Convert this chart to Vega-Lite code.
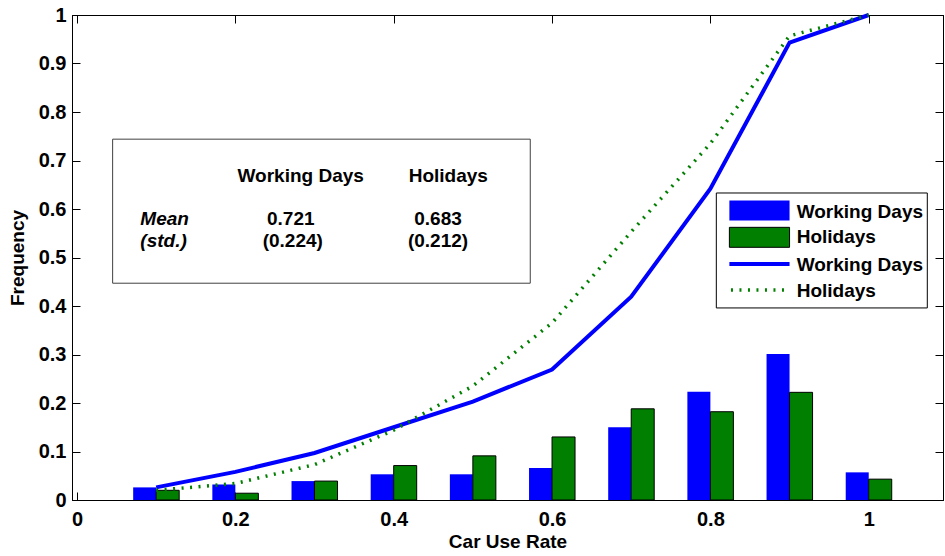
{
  "$schema": "https://vega.github.io/schema/vega-lite/v6.json",
  "autosize": "none",
  "width": 871,
  "height": 485,
  "padding": {"left": 72, "top": 15, "right": 2, "bottom": 56},
  "background": "white",
  "config": {
    "font": "Liberation Sans",
    "view": {"stroke": "black", "strokeWidth": 1},
    "axis": {
      "grid": false,
      "domainColor": "black",
      "tickColor": "black",
      "labelColor": "black",
      "titleColor": "black",
      "labelFont": "Liberation Sans",
      "titleFont": "Liberation Sans",
      "labelFontSize": 20,
      "labelFontWeight": "bold",
      "titleFontSize": 19,
      "titleFontWeight": "bold",
      "tickSize": -8,
      "labelFlush": false,
      "labelOverlap": false
    },
    "text": {"font": "Liberation Sans", "fontSize": 19, "fontWeight": "bold", "baseline": "middle"}
  },
  "datasets": {
    "hist": [
      {"rate": 0.1, "group": "Working Days", "freq": 0.026, "cdf": 0.026},
      {"rate": 0.2, "group": "Working Days", "freq": 0.032, "cdf": 0.058},
      {"rate": 0.3, "group": "Working Days", "freq": 0.039, "cdf": 0.097},
      {"rate": 0.4, "group": "Working Days", "freq": 0.053, "cdf": 0.150},
      {"rate": 0.5, "group": "Working Days", "freq": 0.053, "cdf": 0.203},
      {"rate": 0.6, "group": "Working Days", "freq": 0.066, "cdf": 0.269},
      {"rate": 0.7, "group": "Working Days", "freq": 0.150, "cdf": 0.419},
      {"rate": 0.8, "group": "Working Days", "freq": 0.223, "cdf": 0.642},
      {"rate": 0.9, "group": "Working Days", "freq": 0.301, "cdf": 0.943},
      {"rate": 1.0, "group": "Working Days", "freq": 0.057, "cdf": 1.0},
      {"rate": 0.1, "group": "Holidays", "freq": 0.020, "cdf": 0.020},
      {"rate": 0.2, "group": "Holidays", "freq": 0.014, "cdf": 0.034},
      {"rate": 0.3, "group": "Holidays", "freq": 0.039, "cdf": 0.073},
      {"rate": 0.4, "group": "Holidays", "freq": 0.071, "cdf": 0.144},
      {"rate": 0.5, "group": "Holidays", "freq": 0.091, "cdf": 0.235},
      {"rate": 0.6, "group": "Holidays", "freq": 0.130, "cdf": 0.365},
      {"rate": 0.7, "group": "Holidays", "freq": 0.188, "cdf": 0.553},
      {"rate": 0.8, "group": "Holidays", "freq": 0.182, "cdf": 0.735},
      {"rate": 0.9, "group": "Holidays", "freq": 0.222, "cdf": 0.957},
      {"rate": 1.0, "group": "Holidays", "freq": 0.043, "cdf": 1.0}
    ],
    "one": [{}]
  },
  "resolve": {"axis": {"x": "independent", "y": "independent"}},
  "layer": [
    {
      "data": {"name": "hist"},
      "transform": [{"filter": "datum.group === 'Working Days'"}],
      "mark": {"type": "bar", "width": 23, "xOffset": -11.5, "fill": "#0000FF", "stroke": null},
      "encoding": {
        "x": {
          "field": "rate", "type": "quantitative",
          "scale": {"domain": [0, 1.0875], "nice": false, "zero": false},
          "axis": {
            "orient": "bottom",
            "values": [0, 0.2, 0.4, 0.6, 0.8, 1],
            "format": "~g",
            "labelPadding": 17,
            "title": "Car Use Rate",
            "titlePadding": 3
          }
        },
        "y": {
          "field": "freq", "type": "quantitative",
          "scale": {"domain": [0, 1], "nice": false},
          "axis": {
            "orient": "left",
            "values": [0, 0.1, 0.2, 0.3, 0.4, 0.5, 0.6, 0.7, 0.8, 0.9, 1],
            "format": "~g",
            "labelPadding": 14,
            "title": "Frequency",
            "titlePadding": 11
          }
        }
      }
    },
    {
      "data": {"name": "hist"},
      "transform": [{"filter": "datum.group === 'Holidays'"}],
      "mark": {"type": "bar", "width": 23, "xOffset": 11.5, "fill": "#007F00", "stroke": "black", "strokeWidth": 1},
      "encoding": {
        "x": {"field": "rate", "type": "quantitative", "axis": null},
        "y": {"field": "freq", "type": "quantitative", "axis": null}
      }
    },
    {
      "data": {"name": "hist"},
      "transform": [{"filter": "datum.group === 'Working Days'"}],
      "mark": {"type": "line", "color": "#0000FF", "strokeWidth": 4},
      "encoding": {
        "x": {
          "field": "rate", "type": "quantitative",
          "axis": {"orient": "top", "values": [0, 0.2, 0.4, 0.6, 0.8, 1], "labels": false, "title": null}
        },
        "y": {
          "field": "cdf", "type": "quantitative",
          "axis": {"orient": "right", "values": [0, 0.1, 0.2, 0.3, 0.4, 0.5, 0.6, 0.7, 0.8, 0.9, 1], "labels": false, "title": null}
        }
      }
    },
    {
      "data": {"name": "hist"},
      "transform": [{"filter": "datum.group === 'Holidays'"}],
      "mark": {"type": "line", "color": "#007F00", "strokeWidth": 3.5, "strokeDash": [2, 6.5]},
      "encoding": {
        "x": {"field": "rate", "type": "quantitative", "axis": null},
        "y": {"field": "cdf", "type": "quantitative", "axis": null}
      }
    },
    {
      "data": {"name": "one"},
      "mark": {"type": "rect", "fill": "white", "stroke": "#404040", "strokeWidth": 1},
      "encoding": {
        "x": {"datum": 0.045, "type": "quantitative", "axis": null},
        "x2": {"datum": 0.5725},
        "y": {"datum": 0.744, "type": "quantitative", "axis": null},
        "y2": {"datum": 0.447}
      }
    },
    {
      "data": {"name": "one"},
      "mark": {"type": "text", "text": "Working Days", "align": "center"},
      "encoding": {"x": {"datum": 0.2825, "type": "quantitative", "axis": null}, "y": {"datum": 0.668, "type": "quantitative", "axis": null}}
    },
    {
      "data": {"name": "one"},
      "mark": {"type": "text", "text": "Holidays", "align": "center"},
      "encoding": {"x": {"datum": 0.469, "type": "quantitative", "axis": null}, "y": {"datum": 0.668, "type": "quantitative", "axis": null}}
    },
    {
      "data": {"name": "one"},
      "mark": {"type": "text", "text": "Mean", "fontStyle": "italic", "align": "left"},
      "encoding": {"x": {"datum": 0.08, "type": "quantitative", "axis": null}, "y": {"datum": 0.580, "type": "quantitative", "axis": null}}
    },
    {
      "data": {"name": "one"},
      "mark": {"type": "text", "text": "(std.)", "fontStyle": "italic", "align": "left"},
      "encoding": {"x": {"datum": 0.08, "type": "quantitative", "axis": null}, "y": {"datum": 0.533, "type": "quantitative", "axis": null}}
    },
    {
      "data": {"name": "one"},
      "mark": {"type": "text", "text": "0.721", "align": "center"},
      "encoding": {"x": {"datum": 0.27, "type": "quantitative", "axis": null}, "y": {"datum": 0.580, "type": "quantitative", "axis": null}}
    },
    {
      "data": {"name": "one"},
      "mark": {"type": "text", "text": "(0.224)", "align": "center"},
      "encoding": {"x": {"datum": 0.2725, "type": "quantitative", "axis": null}, "y": {"datum": 0.533, "type": "quantitative", "axis": null}}
    },
    {
      "data": {"name": "one"},
      "mark": {"type": "text", "text": "0.683", "align": "center"},
      "encoding": {"x": {"datum": 0.456, "type": "quantitative", "axis": null}, "y": {"datum": 0.580, "type": "quantitative", "axis": null}}
    },
    {
      "data": {"name": "one"},
      "mark": {"type": "text", "text": "(0.212)", "align": "center"},
      "encoding": {"x": {"datum": 0.456, "type": "quantitative", "axis": null}, "y": {"datum": 0.533, "type": "quantitative", "axis": null}}
    },
    {
      "data": {"name": "one"},
      "mark": {"type": "rect", "fill": "white", "stroke": "black", "strokeWidth": 1},
      "encoding": {
        "x": {"datum": 0.8075, "type": "quantitative", "axis": null},
        "x2": {"datum": 1.074},
        "y": {"datum": 0.633, "type": "quantitative", "axis": null},
        "y2": {"datum": 0.396}
      }
    },
    {
      "data": {"name": "one"},
      "mark": {"type": "rect", "fill": "#0000FF"},
      "encoding": {
        "x": {"datum": 0.824, "type": "quantitative", "axis": null},
        "x2": {"datum": 0.9},
        "y": {"datum": 0.6173, "type": "quantitative", "axis": null},
        "y2": {"datum": 0.5761}
      }
    },
    {
      "data": {"name": "one"},
      "mark": {"type": "rect", "fill": "#007F00", "stroke": "black", "strokeWidth": 1},
      "encoding": {
        "x": {"datum": 0.824, "type": "quantitative", "axis": null},
        "x2": {"datum": 0.9},
        "y": {"datum": 0.5622, "type": "quantitative", "axis": null},
        "y2": {"datum": 0.5210}
      }
    },
    {
      "data": {"name": "one"},
      "mark": {"type": "rule", "color": "#0000FF", "strokeWidth": 4},
      "encoding": {
        "x": {"datum": 0.824, "type": "quantitative", "axis": null},
        "x2": {"datum": 0.9},
        "y": {"datum": 0.4866, "type": "quantitative", "axis": null}
      }
    },
    {
      "data": {"name": "one"},
      "mark": {"type": "rule", "color": "#007F00", "strokeWidth": 3.5, "strokeDash": [2, 6.5]},
      "encoding": {
        "x": {"datum": 0.826, "type": "quantitative", "axis": null},
        "x2": {"datum": 0.9},
        "y": {"datum": 0.433, "type": "quantitative", "axis": null}
      }
    },
    {
      "data": {"name": "one"},
      "mark": {"type": "text", "text": "Working Days", "align": "left"},
      "encoding": {"x": {"datum": 0.909, "type": "quantitative", "axis": null}, "y": {"datum": 0.594, "type": "quantitative", "axis": null}}
    },
    {
      "data": {"name": "one"},
      "mark": {"type": "text", "text": "Holidays", "align": "left"},
      "encoding": {"x": {"datum": 0.909, "type": "quantitative", "axis": null}, "y": {"datum": 0.542, "type": "quantitative", "axis": null}}
    },
    {
      "data": {"name": "one"},
      "mark": {"type": "text", "text": "Working Days", "align": "left"},
      "encoding": {"x": {"datum": 0.909, "type": "quantitative", "axis": null}, "y": {"datum": 0.4845, "type": "quantitative", "axis": null}}
    },
    {
      "data": {"name": "one"},
      "mark": {"type": "text", "text": "Holidays", "align": "left"},
      "encoding": {"x": {"datum": 0.909, "type": "quantitative", "axis": null}, "y": {"datum": 0.431, "type": "quantitative", "axis": null}}
    }
  ]
}
